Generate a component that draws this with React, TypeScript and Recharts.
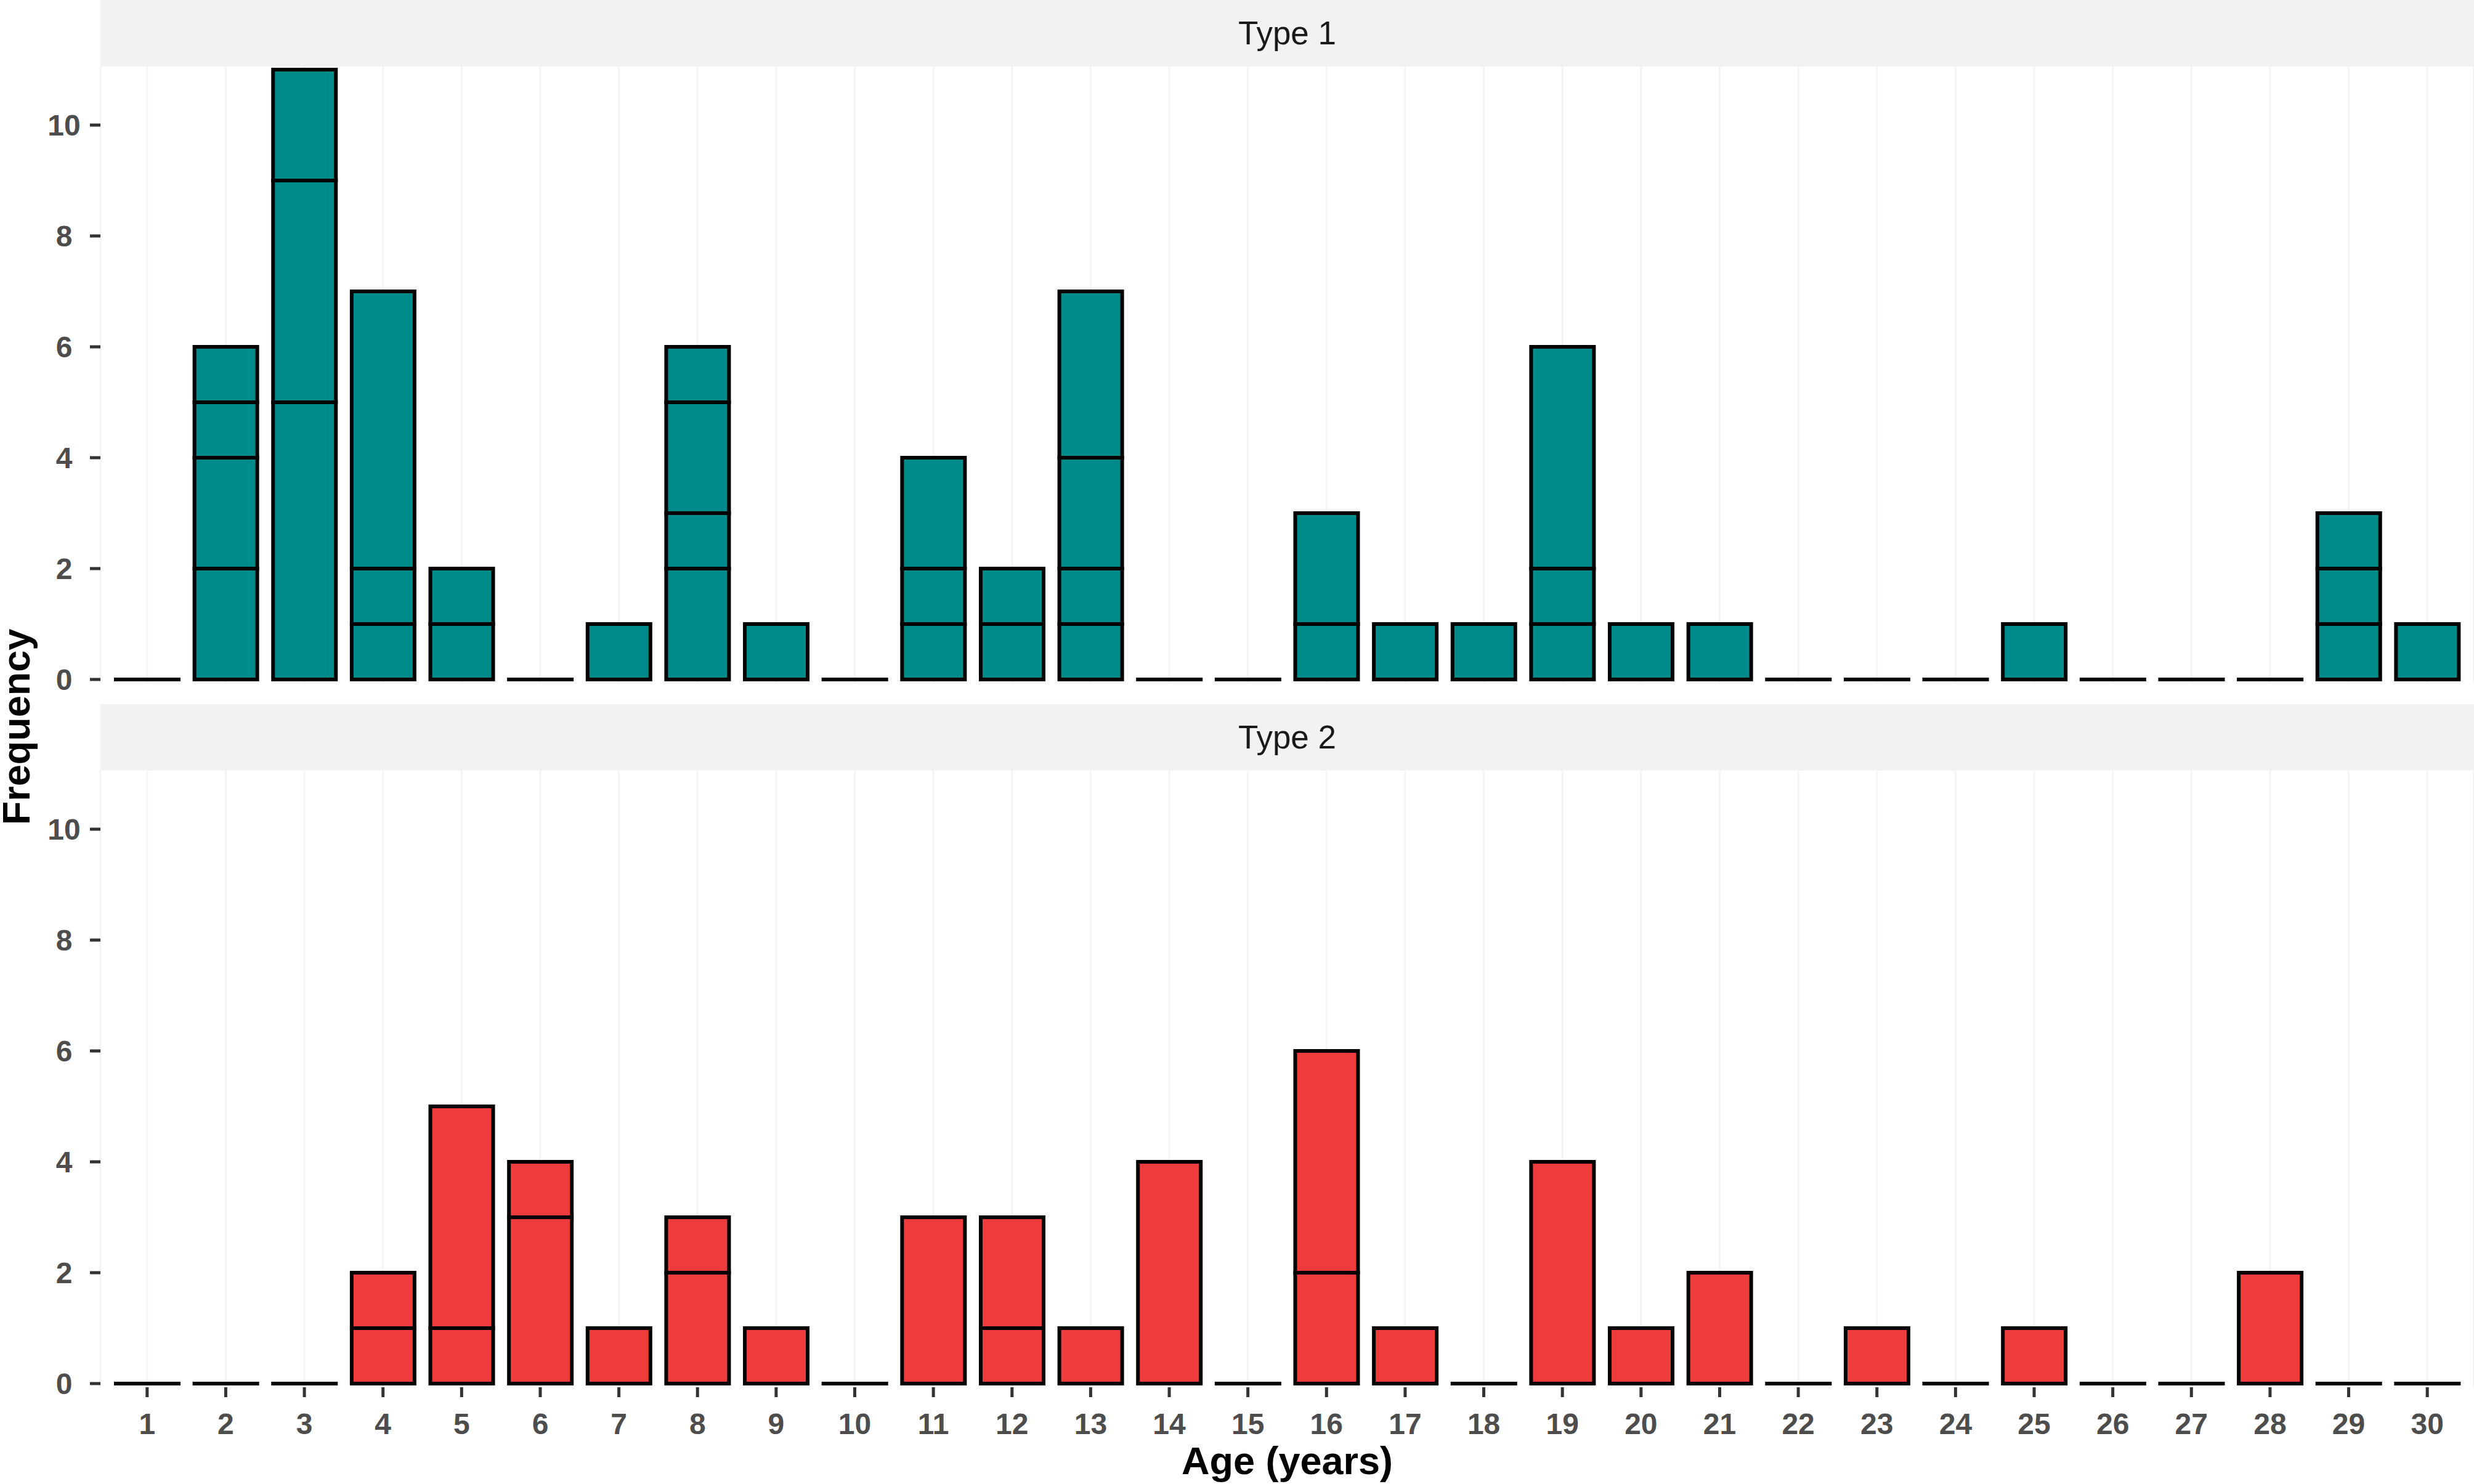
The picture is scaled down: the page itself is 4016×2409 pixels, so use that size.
import React from "react";
import { BarChart, Bar, XAxis, YAxis, CartesianGrid, Label } from "recharts";

// ages on the x axis
const ages = [
  "1", "2", "3", "4", "5", "6", "7", "8", "9", "10",
  "11", "12", "13", "14", "15", "16", "17", "18", "19", "20",
  "21", "22", "23", "24", "25", "26", "27", "28", "29", "30",
];

// Type 1: stacked segments, bottom to top
const type1Seg1 = [0, 2, 5, 1, 1, 0, 1, 2, 1, 0, 1, 1, 1, 0, 0, 1, 1, 1, 1, 1, 1, 0, 0, 0, 1, 0, 0, 0, 1, 1];
const type1Seg2 = [0, 2, 4, 1, 1, 0, 0, 1, 0, 0, 1, 1, 1, 0, 0, 2, 0, 0, 1, 0, 0, 0, 0, 0, 0, 0, 0, 0, 1, 0];
const type1Seg3 = [0, 1, 2, 5, 0, 0, 0, 2, 0, 0, 2, 0, 2, 0, 0, 0, 0, 0, 4, 0, 0, 0, 0, 0, 0, 0, 0, 0, 1, 0];
const type1Seg4 = [0, 1, 0, 0, 0, 0, 0, 1, 0, 0, 0, 0, 3, 0, 0, 0, 0, 0, 0, 0, 0, 0, 0, 0, 0, 0, 0, 0, 0, 0];

// Type 2: stacked segments, bottom to top
const type2Seg1 = [0, 0, 0, 1, 1, 3, 1, 2, 1, 0, 3, 1, 1, 4, 0, 2, 1, 0, 4, 1, 2, 0, 1, 0, 1, 0, 0, 2, 0, 0];
const type2Seg2 = [0, 0, 0, 1, 4, 1, 0, 1, 0, 0, 0, 2, 0, 0, 0, 4, 0, 0, 0, 0, 0, 0, 0, 0, 0, 0, 0, 0, 0, 0];

const yTicks = [0, 2, 4, 6, 8, 10];

const TEAL = "#008B8B";
const RED = "#EE3B3B";
const W = 4016;
const PANEL_H = 1001;
const Y_DOMAIN: [number, number] = [-0.067, 11.056];

function buildRows(segs: number[][]) {
  return ages.map((age, i) => {
    const row: any = { age };
    let total = 0;
    segs.forEach((s, k) => {
      row["s" + (k + 1)] = s[i];
      total += s[i];
    });
    row.total = total;
    return row;
  });
}

const type1Rows = buildRows([type1Seg1, type1Seg2, type1Seg3, type1Seg4]);
const type2Rows = buildRows([type2Seg1, type2Seg2]);

function segShape(isBase: boolean) {
  return (props: any) => {
    const { x, y, width, height, fill, payload } = props;
    if (height > 0) {
      return (
        <rect x={x} y={y} width={width} height={height} fill={fill} stroke="#000" strokeWidth={6} />
      );
    }
    if (isBase && payload && payload.total === 0) {
      return (
        <line x1={x} x2={x + width} y1={y} y2={y} stroke="#000" strokeWidth={6} strokeLinecap="square" />
      );
    }
    return <g />;
  };
}

const YTick = (props: any) => {
  const { y, payload } = props;
  return (
    <text x={104} y={y} dy="0.355em" textAnchor="middle" fill="#4D4D4D" fontSize={48} fontWeight={700}>
      {payload.value}
    </text>
  );
};

const Strip = ({ top, label }: { top: number; label: string }) => (
  <div
    style={{
      position: "absolute",
      left: 163,
      top,
      width: W - 163,
      height: 108,
      background: "#F2F2F2",
      color: "#1A1A1A",
      fontSize: 53,
      lineHeight: "108px",
      textAlign: "center",
    }}
  >
    {label}
  </div>
);

function Panel({ rows, keys, color, showX }: { rows: any[]; keys: string[]; color: string; showX: boolean }) {
  const xH = showX ? 157 : 0;
  const extra = showX ? 0 : 30;
  return (
    <BarChart
      width={W}
      height={PANEL_H + xH + extra}
      data={rows}
      margin={{ top: 0, right: 0, bottom: extra, left: 0 }}
    >
      <CartesianGrid vertical horizontal={false} stroke="#F4F4F4" strokeWidth={3} />
      <XAxis
        dataKey="age"
        type="category"
        interval={0}
        hide={!showX}
        height={xH}
        padding={{ left: 12, right: 12 }}
        axisLine={false}
        tickSize={16}
        tickMargin={26}
        tickLine={{ stroke: "#333333", strokeWidth: 5 }}
        tick={{ fill: "#4D4D4D", fontSize: 48, fontWeight: 700 }}
      >
        {showX && (
          <Label value="Age (years)" position="insideBottom" offset={16} fill="#000" fontSize={63} fontWeight={700} />
        )}
      </XAxis>
      <YAxis
        type="number"
        width={163}
        domain={Y_DOMAIN}
        ticks={yTicks}
        axisLine={false}
        tickSize={17}
        tickLine={{ stroke: "#333333", strokeWidth: 5 }}
        tick={<YTick />}
      />
      {keys.map((k, i) => (
        <Bar
          key={k}
          dataKey={k}
          stackId="a"
          fill={color}
          barSize={102}
          isAnimationActive={false}
          shape={segShape(i === 0)}
        />
      ))}
    </BarChart>
  );
}

export default function App() {
  return (
    <div
      style={{
        position: "relative",
        width: W,
        height: 2409,
        background: "#fff",
        fontFamily: "'Liberation Sans', Arial, sans-serif",
      }}
    >
      <style>{"body{margin:0}"}</style>
      <Strip top={0} label="Type 1" />
      <div style={{ position: "absolute", left: 0, top: 108 }}>
        <Panel rows={type1Rows} keys={["s1", "s2", "s3", "s4"]} color={TEAL} showX={false} />
      </div>
      <Strip top={1143} label="Type 2" />
      <div style={{ position: "absolute", left: 0, top: 1251 }}>
        <Panel rows={type2Rows} keys={["s1", "s2"]} color={RED} showX={true} />
      </div>
      <svg width={80} height={2409} style={{ position: "absolute", left: 0, top: 0 }}>
        <text
          transform="translate(48,1180) rotate(-90)"
          textAnchor="middle"
          fontSize={63}
          fontWeight={700}
          fill="#000"
        >
          Frequency
        </text>
      </svg>
    </div>
  );
}
